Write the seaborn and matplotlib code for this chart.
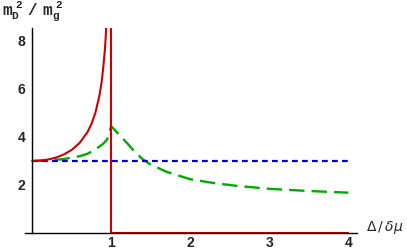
import matplotlib
matplotlib.use("Agg")
import matplotlib.pyplot as plt
import seaborn as sns

# values
red_x = [0.0, 0.1, 0.2, 0.3, 0.4, 0.5, 0.6, 0.7, 0.75, 0.8, 0.85, 0.88, 0.9, 0.92, 0.93,
         0.94, 0.95]
red_y = [3.0, 3.02, 3.06, 3.14, 3.27, 3.46, 3.75, 4.2, 4.54, 5.0, 5.7, 6.3, 6.9, 7.6, 8.1,
         8.8, 9.6]
step_x = [1.0, 1.0, 4.0]
step_y = [9.5, 0.0, 0.0]
green_x = [0.0, 0.2, 0.4, 0.6, 0.7, 0.8, 0.9, 0.95, 1.0, 1.1, 1.2, 1.3, 1.4, 1.5, 1.7,
           2.0, 2.3, 2.6, 3.0, 3.5, 4.0]
green_y = [3.0, 3.02, 3.08, 3.2, 3.3, 3.48, 3.72, 3.9, 4.45, 4.1, 3.75, 3.38, 3.07, 2.85,
           2.55, 2.24, 2.08, 1.96, 1.84, 1.75, 1.68]
blue_x = [0.0, 4.0]
blue_y = [3.0, 3.0]
xticks = [1, 2, 3, 4]
yticks = [2, 4, 6, 8]

sns.set_style("white")
plt.rcParams['font.family'] = ['Liberation Sans', 'DejaVu Sans']
plt.rcParams['mathtext.fontset'] = 'custom'
plt.rcParams['mathtext.rm'] = 'Liberation Mono:bold'

fig = plt.figure(figsize=(4.07, 2.52), dpi=100)
ax = fig.add_axes([25 / 407, 19 / 252, 332 / 407, 205 / 252])

sns.lineplot(x=green_x, y=green_y, sort=False, estimator=None, ax=ax,
             color='#00aa00', linewidth=1.7)
ax.lines[-1].set_dashes((6.5, 3.0))
sns.lineplot(x=blue_x, y=blue_y, sort=False, estimator=None, ax=ax,
             color='#0000cc', linewidth=1.6)
ax.lines[-1].set_dashes((2.6, 1.9))
sns.lineplot(x=red_x, y=red_y, sort=False, estimator=None, ax=ax,
             color='#cc0000', linewidth=1.5)
sns.lineplot(x=step_x, y=step_y, sort=False, estimator=None, ax=ax,
             color='#cc0000', linewidth=1.5)

ax.set_xlim(-0.09, 4.11)
ax.set_ylim(0, 8.54)
ax.spines['left'].set_position(('data', 0))
ax.spines['right'].set_visible(False)
ax.spines['top'].set_visible(False)
for s in ('left', 'bottom'):
    ax.spines[s].set_color('black')
    ax.spines[s].set_linewidth(1.0)
ax.set_xticks(xticks)
ax.set_yticks(yticks)
ax.set_xticklabels([str(t) for t in xticks], fontweight='bold', fontsize=10)
ax.set_yticklabels([str(t) for t in yticks], fontweight='bold', fontsize=10)
ax.tick_params(axis='both', direction='in', length=3, width=0.5, color='#999999')
ax.tick_params(axis='x', pad=2)
ax.tick_params(axis='y', pad=5)

fig.text(2 / 407, 1 - 12 / 252, r'$\mathrm{m_D^{\ 2}\ /\ m_g^{\ 2}}$', fontsize=11.5,
         va='center', ha='left')
fig.text(366 / 407, 1 - 228 / 252, r'Δ$\,$/$\,\delta\mu$', fontsize=10,
         va='center', ha='left', family=['DejaVu Sans'])

fig.savefig('out.png', dpi=100)
